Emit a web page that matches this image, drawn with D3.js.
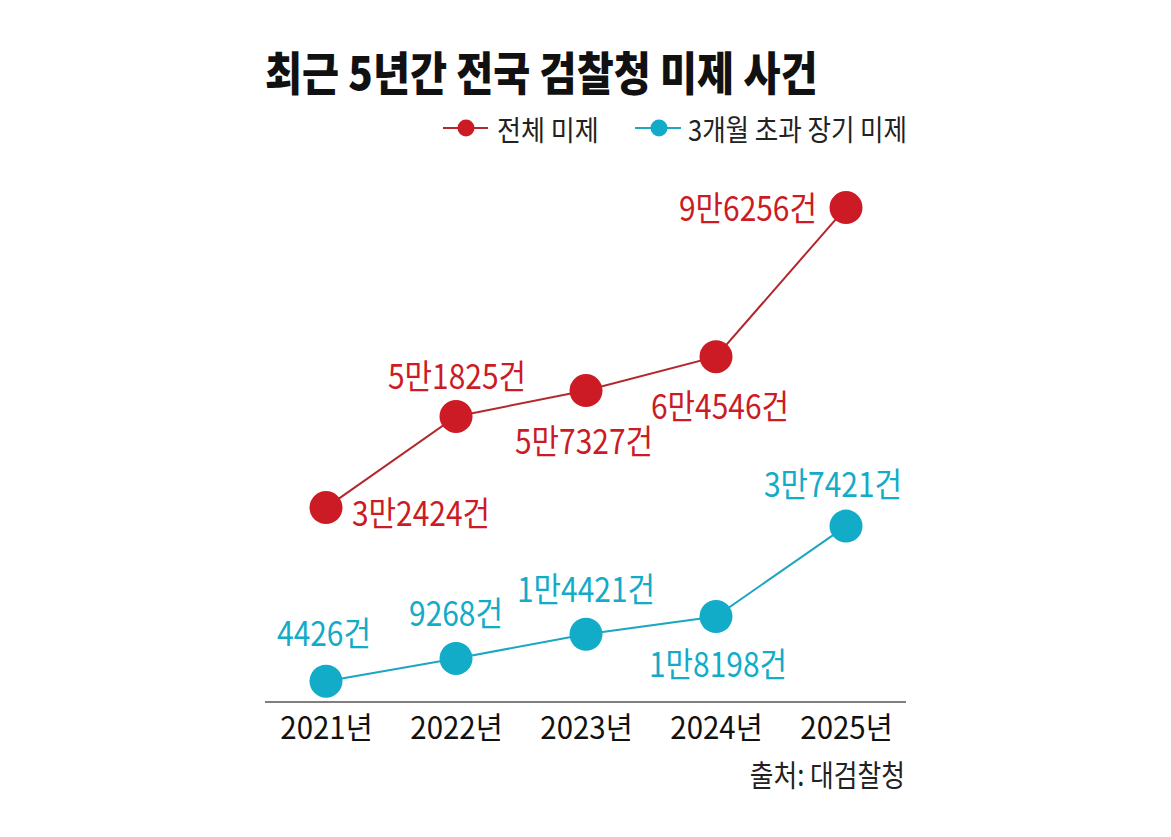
<!DOCTYPE html>
<html>
<head>
<meta charset="utf-8">
<script src="https://cdn.jsdelivr.net/npm/d3@7"></script>
<style>
  body { margin: 0; background: #fff; }
  text { font-family: "Noto Sans CJK KR", "Noto Sans", sans-serif; }
</style>
</head>
<body>
<div id="chart"></div>
<script>
// data
var years = ["2021년", "2022년", "2023년", "2024년", "2025년"];
var totalCases = [32424, 51825, 57327, 64546, 96256];
var longCases = [4426, 9268, 14421, 18198, 37421];
var totalLabels = ["3만2424건", "5만1825건", "5만7327건", "6만4546건", "9만6256건"];
var longLabels = ["4426건", "9268건", "1만4421건", "1만8198건", "3만7421건"];
var seriesNames = ["전체 미제", "3개월 초과 장기 미제"];

var width = 1171, height = 837;
var red = "#cc1b24", redLine = "#b3282d";
var cyan = "#12abc8", cyanLine = "#1ba6c2";

var svg = d3.select("#chart").append("svg")
  .attr("width", width)
  .attr("height", height);

var x = d3.scalePoint()
  .domain(years)
  .range([326, 846]);

// same px per case for both lines, red series lifted to sit above the cyan one
var yLong = d3.scaleLinear().domain([0, 100000]).range([702, 232]);
var yTotal = d3.scaleLinear().domain([0, 100000]).range([660, 190]);

// condensed text, the original font is narrow
function ctext(g, tx, ty, str, anchor, squeeze) {
  return g.append("text")
    .attr("transform", "translate(" + tx + "," + ty + ") scale(" + squeeze + ",1)")
    .attr("text-anchor", anchor || "middle")
    .attr("dominant-baseline", "central")
    .text(str);
}

// title
ctext(svg, 265, 70, "최근 5년간 전국 검찰청 미제 사건", "start", 0.876)
  .attr("font-size", 46)
  .attr("font-weight", 900)
  .attr("fill", "#111");

// legend
var legend = svg.append("g").attr("font-size", 29).attr("fill", "#222");
legend.append("line").attr("x1", 443).attr("x2", 488).attr("y1", 128).attr("y2", 128)
  .attr("stroke", redLine).attr("stroke-width", 2);
legend.append("circle").attr("cx", 466).attr("cy", 128).attr("r", 8.5).attr("fill", red);
ctext(legend, 497, 128, seriesNames[0], "start", 0.9);
legend.append("line").attr("x1", 635).attr("x2", 681).attr("y1", 128).attr("y2", 128)
  .attr("stroke", cyanLine).attr("stroke-width", 2);
legend.append("circle").attr("cx", 659).attr("cy", 128).attr("r", 8.5).attr("fill", cyan);
ctext(legend, 688, 128, seriesNames[1], "start", 0.88);

// axis
var axis = svg.append("g")
  .attr("transform", "translate(0,702)")
  .call(d3.axisBottom(x).tickSize(0).tickPadding(25));
axis.select(".domain").remove();
axis.append("line").attr("x1", 265).attr("x2", 906)
  .attr("stroke", "#555").attr("stroke-width", 1.5);
axis.selectAll(".tick text")
  .attr("font-family", "'Noto Sans CJK KR', sans-serif")
  .attr("font-size", 31)
  .attr("fill", "#111")
  .attr("dy", "0.35em")
  .attr("y", 0)
  .attr("transform", "translate(0,26) scale(0.95,1)");

// label placement: [dx, dy, anchor]
var totalPlace = [[26, 4, "start"], [1, -42, "middle"], [-2, 49, "middle"], [4, 48, "middle"], [-29, -1, "end"]];
var longPlace = [[-2, -50, "middle"], [0, -47, "middle"], [0, -47, "middle"], [2, 46, "middle"], [-13, -44, "middle"]];

function drawSeries(values, labels, place, y, dotColor, lineColor) {
  var g = svg.append("g");
  var line = d3.line()
    .x(function (d, i) { return x(years[i]); })
    .y(function (d) { return y(d); });
  g.append("path")
    .datum(values)
    .attr("d", line)
    .attr("fill", "none")
    .attr("stroke", lineColor)
    .attr("stroke-width", 2);
  g.selectAll("circle")
    .data(values)
    .enter()
    .append("circle")
    .attr("cx", function (d, i) { return x(years[i]); })
    .attr("cy", function (d) { return y(d); })
    .attr("r", 16.5)
    .attr("fill", dotColor);
  values.forEach(function (d, i) {
    ctext(g, x(years[i]) + place[i][0], y(d) + place[i][1], labels[i], place[i][2], 0.88)
      .attr("font-size", 34)
      .attr("fill", dotColor);
  });
}

drawSeries(totalCases, totalLabels, totalPlace, yTotal, red, redLine);
drawSeries(longCases, longLabels, longPlace, yLong, cyan, cyanLine);

// source
ctext(svg, 905, 773, "출처: 대검찰청", "end", 0.86)
  .attr("font-size", 30)
  .attr("fill", "#222");
</script>
</body>
</html>
